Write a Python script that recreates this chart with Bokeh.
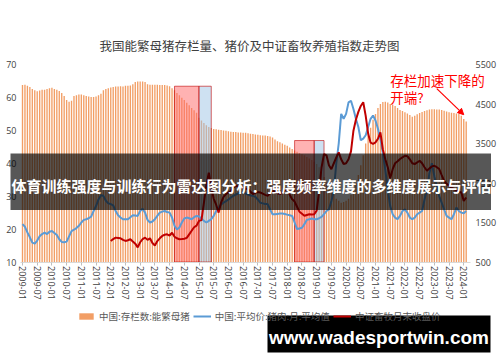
from bokeh.plotting import figure
from bokeh.models import (Range1d, LinearAxis, FixedTicker, BoxAnnotation, Label,
                          Arrow, NormalHead, Legend, LegendItem)
from bokeh.embed import file_html
from bokeh.resources import INLINE

# ---------------- data ----------------
first_month = "2009-01"

# China: breeding sow inventory (10k head), monthly 2009-01 .. 2024-02 (right axis)
sows = [
    4980, 4990, 4960, 4930, 4880, 4850, 4820, 4840, 4860, 4860, 4880, 4900,  # 2009
    4910, 4880, 4860, 4830, 4780, 4700, 4600, 4560, 4580, 4700, 4720, 4740,  # 2010
    4740, 4720, 4700, 4690, 4680, 4680, 4690, 4720, 4760, 4850, 4880, 4900,  # 2011
    4920, 4930, 4940, 4940, 4950, 4940, 4960, 4960, 4970, 5000, 5060, 5070,  # 2012
    5070, 5070, 5060, 5000, 4990, 4990, 4990, 4990, 4980, 4980, 4980, 4970,  # 2013
    4950, 4900, 4850, 4780, 4720, 4660, 4600, 4530, 4470, 4400, 4340, 4280,  # 2014
    4150, 4080, 4020, 3960, 3920, 3890, 3870, 3860, 3850, 3840, 3830, 3820,  # 2015
    3810, 3800, 3790, 3790, 3780, 3780, 3770, 3770, 3760, 3750, 3740, 3730,  # 2016
    3720, 3710, 3700, 3700, 3690, 3680, 3650, 3600, 3560, 3530, 3500, 3470,  # 2017
    3440, 3400, 3360, 3320, 3290, 3260, 3230, 3200, 3160, 3120, 3080, 3040,  # 2018
    2980, 2900, 2780, 2650, 2520, 2420, 2300, 2200, 2100, 2050, 2000, 2020,  # 2019
    2050, 2100, 2200, 2350, 2500, 2700, 2950, 3200, 3500, 3700, 3900, 4100,  # 2020
    4250, 4400, 4500, 4550, 4560, 4540, 4500, 4480, 4450, 4400, 4350, 4320,  # 2021
    4290, 4260, 4220, 4180, 4200, 4240, 4270, 4300, 4320, 4340, 4360, 4370,  # 2022
    4370, 4360, 4360, 4350, 4330, 4310, 4290, 4280, 4270, 4260, 4250, 4200,  # 2023
    4120, 4060,                                                              # 2024
]

# China: average pork price (yuan/kg), monthly 2009-01 .. 2024-02 (left axis)
pork = [
    21.5, 20.7, 19.0, 17.5, 15.9, 15.6, 16.5, 17.8, 18.5, 18.9, 18.5, 19.2,  # 2009
    19.4, 18.8, 18.2, 16.9, 16.1, 16.0, 16.2, 17.8, 19.4, 19.8, 20.3, 21.0,  # 2010
    22.0, 22.8, 23.0, 23.3, 23.8, 25.5, 27.0, 29.0, 30.3, 30.1, 28.6, 27.8,  # 2011
    27.6, 27.2, 25.5, 24.2, 23.5, 23.0, 23.0, 23.0, 23.6, 24.2, 24.1, 24.0,  # 2012
    25.5, 26.2, 25.0, 22.8, 22.0, 22.3, 23.0, 24.0, 25.0, 25.3, 25.5, 25.2,  # 2013
    25.0, 23.5, 21.0, 19.9, 20.5, 22.0, 23.2, 23.5, 23.3, 23.0, 23.6, 24.0,  # 2014
    23.8, 23.2, 22.5, 22.0, 22.5, 23.0, 24.0, 25.5, 26.5, 27.5, 28.0, 28.5,  # 2015
    29.0, 29.6, 30.1, 30.5, 30.8, 31.1, 31.1, 30.8, 30.5, 30.2, 30.1, 29.8,  # 2016
    29.0, 28.0, 27.8, 27.6, 27.6, 26.0, 24.5, 24.5, 24.6, 24.7, 24.7, 24.6,  # 2017
    24.4, 24.2, 24.0, 22.0, 20.0, 20.2, 20.4, 21.5, 22.8, 23.0, 23.2, 23.0,  # 2018
    23.0, 23.3, 23.7, 24.5, 25.5, 26.0, 28.5, 31.6, 40.0, 46.0, 55.0, 53.5,  # 2019
    55.0, 58.5, 59.0, 56.5, 53.5, 51.0, 47.0, 47.5, 48.5, 51.0, 53.5, 54.5,  # 2020
    53.0, 50.5, 47.4, 43.0, 38.0, 32.0, 27.0, 24.5, 23.5, 23.0, 24.0, 25.5,  # 2021
    26.0, 25.0, 23.5, 23.0, 23.5, 24.5, 25.0, 25.5, 29.0, 32.0, 37.0, 40.0,  # 2022
    36.0, 33.0, 30.0, 28.0, 26.0, 24.0, 23.5, 23.0, 24.5, 26.5, 25.5, 25.0,  # 2023
    24.8, 25.5,                                                              # 2024
]

# CSI livestock index, month-end close, 2012-01 .. 2024-02 (right axis)
index_first_month = "2012-01"
index_close = [
    1030, 1080, 1117, 1110, 1100, 1060, 1033, 1050, 1076, 1020, 965, 870,    # 2012
    1000, 1080, 1117, 1060, 1100, 980, 920, 1030, 1100, 1160, 1190, 1200,    # 2013
    1170, 1240, 1140, 1100, 1076, 1080, 1090, 1110, 1200, 1290, 1380, 1420,  # 2014
    1540, 1560, 1995, 2450, 2760, 2400, 2100, 1950, 1751, 2000, 2150, 2220,  # 2015
    2260, 2300, 2380, 2430, 2410, 2400, 2380, 2360, 2340, 2280, 2220, 2250,  # 2016
    2270, 2260, 2230, 2200, 2175, 2240, 2300, 2280, 2240, 2220, 2260, 2320,  # 2017
    2345, 2200, 2091, 2030, 1900, 1770, 1720, 1670, 1690, 1710, 1700, 1710,  # 2018
    1800, 2300, 2900, 3234, 3200, 2950, 2850, 3000, 3150, 3274, 3100, 2980,  # 2019
    3000, 3100, 3300, 3825, 4100, 4300, 4450, 4543, 4200, 3750, 3520, 3490,  # 2020
    3530, 3620, 3782, 3350, 3100, 2900, 2620, 2850, 3000, 3050, 3107, 3150,  # 2021
    3190, 3180, 3100, 3000, 2980, 3020, 3063, 3000, 2900, 2810, 2870, 2920,  # 2022
    2937, 2900, 2853, 2700, 2555, 2480, 2429, 2380, 2345, 2310, 2280, 2260,  # 2023
    2048, 2133,                                                              # 2024
]

tick_labels = [
    "2009-01", "2009-07", "2010-01", "2010-07", "2011-01", "2011-07", "2012-01", "2012-07",
    "2013-01", "2013-07", "2014-01", "2014-07", "2015-01", "2015-07", "2016-01", "2016-07",
    "2017-01", "2017-07", "2018-01", "2018-07", "2019-01", "2019-07", "2020-01", "2020-07",
    "2021-01", "2021-07", "2022-01", "2022-07", "2023-01", "2023-07", "2024-01",
]
left_ticks = [10, 20, 30, 40, 50, 60, 70]
right_ticks = [500, 1500, 2500, 3500, 4500, 5500]

# highlighted periods: start, switch, end, height on left axis
period_starts = ["2014-03", "2018-04"]
period_switches = ["2015-01", "2018-12"]
period_ends = ["2015-06", "2019-04"]
period_tops = [63.4, 46.9]

title_text = "我国能繁母猪存栏量、猪价及中证畜牧养殖指数走势图"
legend_labels = ["中国:存栏数:能繁母猪", "中国:平均价:猪肉:月:平均值", "中证畜牧月末收盘价"]
note_lines = ["存栏加速下降的", "开端?"]
note_month = "2021-07"
note_levels = [5120, 4665]          # right-axis level of each note line
arrow_from = ("2023-02", 4890)
arrow_to = ("2024-01", 4230)
banner_text = "体育训练强度与训练行为雷达图分析：强度频率维度的多维度展示与评估"
watermark_text = "www.wadesportwin.com"


def midx(s):
    y0, m0 = first_month.split("-")
    y, m = s.split("-")
    return (int(y) - int(y0)) * 12 + int(m) - int(m0)


months = list(range(len(sows)))
idx_months = [midx(index_first_month) + i for i in range(len(index_close))]

# ---------------- layout (canvas pixels) ----------------
W, H = 500, 362
MONTH0_PX, MONTH_PX = 22.0, 2.4514          # position of first month, px per month
AREA_L_PX, AREA_R_PX = 20.0, 470.0          # left / right edge of the chart area
TOP_PX, BOT_PX = 64.0, 261.5                # pixel rows of axis max / min
L_MIN, L_MAX = left_ticks[0], left_ticks[-1]
R_MIN, R_MAX = right_ticks[0], right_ticks[-1]

x0 = -MONTH0_PX / MONTH_PX
x1 = x0 + W / MONTH_PX
kl = (L_MAX - L_MIN) / (BOT_PX - TOP_PX)
kr = (R_MAX - R_MIN) / (BOT_PX - TOP_PX)


def xpx(px):
    return x0 + px / MONTH_PX


CJK = "Noto Sans CJK SC"
NUM = "Open Sans"

p = figure(width=W, height=H, output_backend="svg", toolbar_location=None,
           x_range=Range1d(x0, x1),
           y_range=Range1d(L_MIN - (H - BOT_PX) * kl, L_MAX + TOP_PX * kl),
           min_border=0, min_border_left=0, min_border_right=0,
           min_border_top=0, min_border_bottom=0)
p.extra_y_ranges = {"r": Range1d(R_MIN - (H - BOT_PX) * kr, R_MAX + TOP_PX * kr)}
p.grid.visible = False
p.outline_line_color = None
p.background_fill_color = "white"
p.border_fill_color = "white"
p.title.visible = False

# x axis (drawn at the bottom of the chart area)
xa = p.xaxis[0]
xa.fixed_location = L_MIN
xa.bounds = (xpx(AREA_L_PX), xpx(AREA_R_PX))
xa.ticker = FixedTicker(ticks=[midx(t) for t in tick_labels])
xa.major_label_overrides = {midx(t): t for t in tick_labels}
xa.major_label_orientation = "vertical"
xa.major_label_text_font = NUM
xa.major_label_text_font_size = "9px"
xa.major_label_text_color = "#404040"
xa.axis_line_color = "#D9D9D9"
xa.major_tick_line_color = "#BFBFBF"
xa.major_tick_out = 3
xa.major_tick_in = 0
xa.minor_tick_line_color = None
xa.major_label_standoff = 1

# left axis (labels pulled into the canvas)
ya = p.yaxis[0]
ya.ticker = FixedTicker(ticks=left_ticks)
ya.axis_line_color = None
ya.major_tick_line_color = None
ya.minor_tick_line_color = None
ya.major_tick_out = 0
ya.major_label_text_font = NUM
ya.major_label_text_font_size = "9px"
ya.major_label_text_color = "#404040"
ya.major_label_standoff = -16

# right axis
ra = LinearAxis(y_range_name="r", ticker=FixedTicker(ticks=right_ticks))
ra.axis_line_color = None
ra.major_tick_line_color = None
ra.minor_tick_line_color = None
ra.major_tick_out = 0
ra.major_label_text_font = NUM
ra.major_label_text_font_size = "9px"
ra.major_label_text_color = "#404040"
ra.major_label_standoff = -25
p.add_layout(ra, "right")

# bars
bars = p.vbar(x=months, top=sows, bottom=R_MIN, width=0.55, y_range_name="r",
              fill_color="#ED7D31", fill_alpha=0.75, line_color=None)

# highlighted periods
p.quad(left=[midx(s) for s in period_starts], right=[midx(s) for s in period_switches],
       bottom=L_MIN, top=period_tops, fill_color="#FF6666", fill_alpha=0.5,
       line_color="#C00000", line_alpha=0.6, line_width=1)
p.quad(left=[midx(s) for s in period_switches], right=[midx(s) for s in period_ends],
       bottom=L_MIN, top=period_tops, fill_color="#9DC3E6", fill_alpha=0.5,
       line_color="#C00000", line_alpha=0.6, line_width=1)

# lines
blue = p.line(months, pork, line_color="#5B9BD5", line_width=2)
red = p.line(idx_months, index_close, line_color="#C00000", line_width=2, y_range_name="r")

# title
p.add_layout(Label(x=249, y=45, x_units="canvas", y_units="canvas", text=title_text,
                   text_font=CJK, text_font_size="12.5px", text_color="#404040",
                   text_align="center", text_baseline="middle"))

# legend
legend = Legend(items=[LegendItem(label=legend_labels[0], renderers=[bars]),
                       LegendItem(label=legend_labels[1], renderers=[blue]),
                       LegendItem(label=legend_labels[2], renderers=[red])],
                orientation="horizontal", location=(77, 39))
legend.label_text_font = CJK
legend.label_text_font_size = "9.5px"
legend.label_text_color = "#595959"
legend.glyph_width = 18
legend.glyph_height = 8
legend.label_height = 12
legend.spacing = 3
legend.padding = 0
legend.margin = 0
legend.label_standoff = 4
legend.border_line_color = None
legend.background_fill_alpha = 0
p.add_layout(legend)

# annotation
for line_text, level in zip(note_lines, note_levels):
    p.add_layout(Label(x=midx(note_month), y=level, y_range_name="r", text=line_text,
                       text_font=CJK, text_font_size="13.5px", text_color="#FF0000",
                       text_baseline="middle", text_align="left"))
p.add_layout(Arrow(x_start=midx(arrow_from[0]), y_start=arrow_from[1],
                   x_end=midx(arrow_to[0]), y_end=arrow_to[1], y_range_name="r",
                   line_color="#FF0000", line_width=1.2,
                   end=NormalHead(size=6, fill_color="#FF0000", line_color="#FF0000")))

# overlay banner
p.add_layout(BoxAnnotation(left=10, right=490.5, top=153, bottom=209.5,
                           left_units="canvas", right_units="canvas",
                           top_units="canvas", bottom_units="canvas",
                           fill_color="black", fill_alpha=0.66, line_color=None))
p.add_layout(Label(x=251, y=184.5, x_units="canvas", y_units="canvas", text=banner_text,
                   text_font=CJK, text_font_size="15px", text_font_style="bold",
                   text_color="white", text_align="center", text_baseline="middle"))

# watermark
p.add_layout(BoxAnnotation(left=267, right=490, top=315, bottom=352,
                           left_units="canvas", right_units="canvas",
                           top_units="canvas", bottom_units="canvas",
                           fill_color="black", fill_alpha=1.0, line_color=None))
p.add_layout(Label(x=378.5, y=337, x_units="canvas", y_units="canvas", text=watermark_text,
                   text_font="Liberation Sans", text_font_size="19px",
                   text_font_style="bold", text_color="white",
                   text_align="center", text_baseline="middle"))

open("out.html", "w").write(file_html(p, INLINE))
